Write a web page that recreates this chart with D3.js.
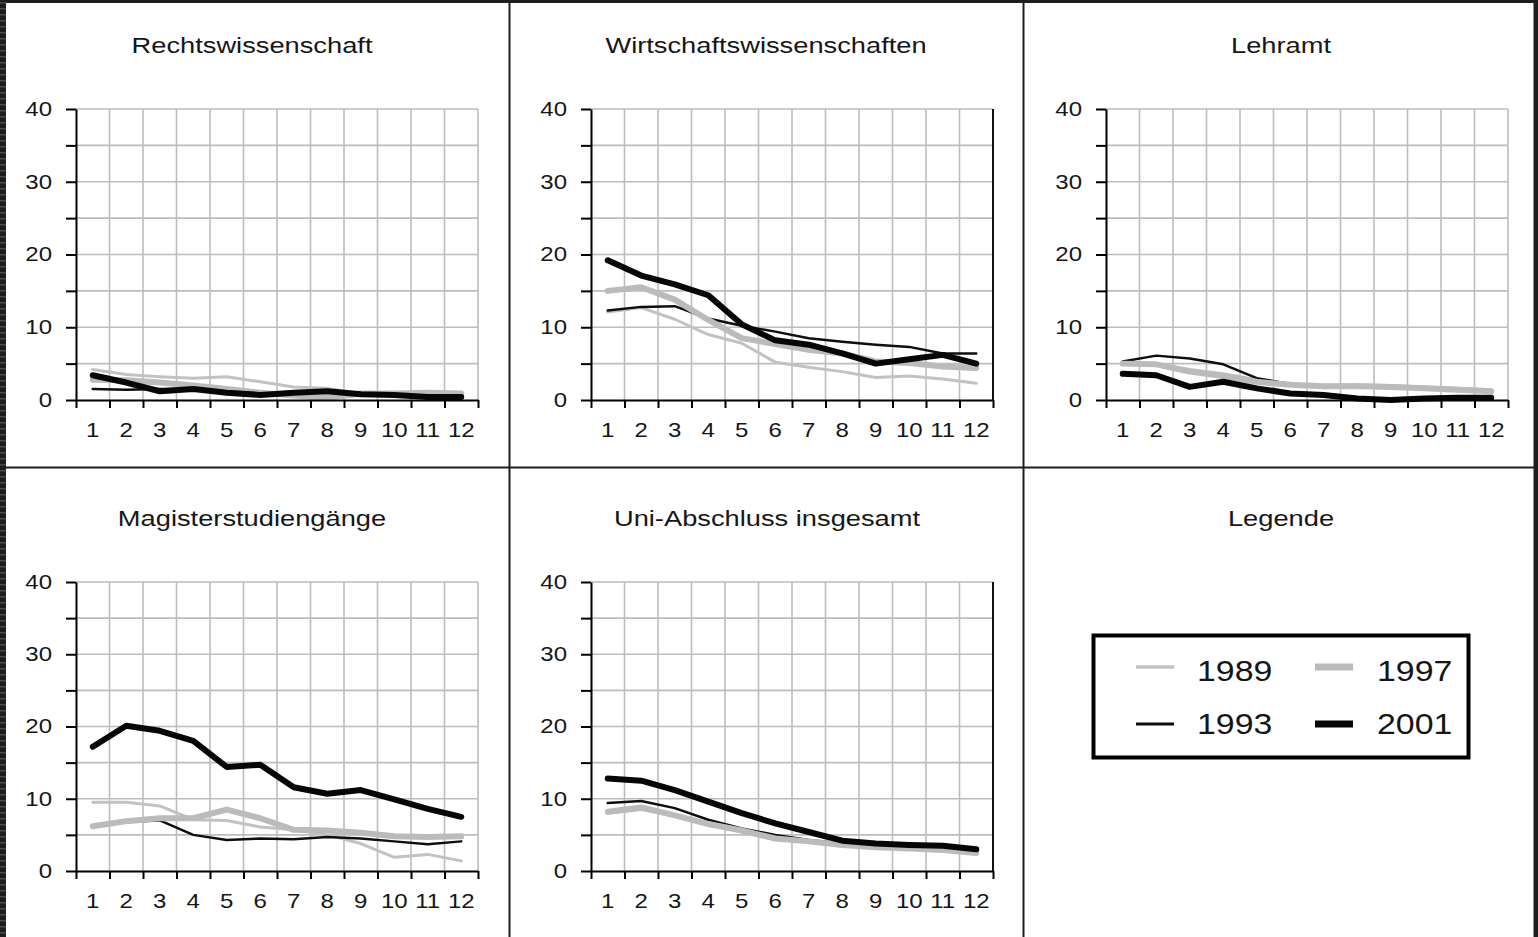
<!DOCTYPE html>
<html><head><meta charset="utf-8">
<script src="https://cdn.jsdelivr.net/npm/d3@7"></script>
<style>
body{margin:0;background:#1c1c1c;}
svg{display:block;}
text{font-family:"Liberation Sans",Arial,sans-serif;fill:#161616;}
</style>
</head><body><svg id="c" width="1538" height="937"></svg>
<script>
// ---------- data ----------
const categories = [1,2,3,4,5,6,7,8,9,10,11,12];
const years = ["1989","1993","1997","2001"];
const yTicks = [0,5,10,15,20,25,30,35,40];
const yLabels = [0,10,20,30,40];
const panelTitles = ["Rechtswissenschaft","Wirtschaftswissenschaften","Lehramt","Magisterstudiengänge","Uni-Abschluss insgesamt"];
const legendTitle = "Legende";

const rechts1989 = [4.2,3.5,3.2,3.0,3.2,2.5,1.8,1.6,0.9,0.9,0.9,0.8];
const rechts1993 = [1.5,1.4,1.5,1.5,1.1,0.8,1.0,1.2,0.9,0.8,0.5,0.4];
const rechts1997 = [2.8,2.7,2.4,2.0,1.5,1.0,0.6,0.3,0.9,0.9,1.0,0.9];
const rechts2001 = [3.4,2.4,1.2,1.5,1.0,0.7,1.0,1.2,0.8,0.7,0.4,0.4];

const wirt1989 = [12.1,12.7,11.1,9.0,7.8,5.2,4.5,3.9,3.1,3.3,2.9,2.3];
const wirt1993 = [12.3,12.8,12.9,11.2,10.2,9.4,8.5,8.0,7.6,7.3,6.4,6.4];
const wirt1997 = [15.0,15.5,13.8,11.0,8.5,7.7,6.9,6.4,5.3,5.1,4.6,4.4];
const wirt2001 = [19.2,17.1,15.9,14.4,10.4,8.2,7.6,6.4,5.0,5.6,6.2,5.0];

const lehr1989 = [5.0,5.0,4.2,3.6,2.8,2.2,2.0,2.1,2.0,1.8,1.6,1.4];
const lehr1993 = [5.3,6.1,5.7,4.9,3.0,2.2,1.9,1.8,1.7,1.6,1.4,1.2];
const lehr1997 = [5.0,4.9,3.9,3.3,2.5,2.1,1.9,1.9,1.8,1.6,1.4,1.2];
const lehr2001 = [3.6,3.4,1.8,2.5,1.6,0.9,0.7,0.2,0.0,0.2,0.3,0.3];

const mag1989 = [9.5,9.5,9.0,7.1,7.0,6.1,5.7,5.0,3.8,1.9,2.3,1.4];
const mag1993 = [6.2,6.8,7.0,5.0,4.3,4.5,4.4,4.7,4.5,4.1,3.7,4.1];
const mag1997 = [6.2,6.9,7.3,7.3,8.5,7.3,5.7,5.6,5.3,4.8,4.7,4.8];
const mag2001 = [17.2,20.1,19.4,18.0,14.4,14.7,11.6,10.7,11.2,9.9,8.6,7.5];

const uni1989 = [8.0,8.5,7.6,6.4,5.5,4.4,4.0,3.6,3.2,3.0,2.8,2.4];
const uni1993 = [9.4,9.7,8.7,7.1,5.9,5.0,4.3,3.8,3.4,3.2,3.0,2.8];
const uni1997 = [8.2,8.8,7.7,6.5,5.6,4.5,4.1,3.6,3.3,3.1,2.9,2.5];
const uni2001 = [12.8,12.5,11.2,9.6,8.0,6.6,5.4,4.2,3.8,3.6,3.5,3.0];

const panelSeries = [
  [rechts1989, rechts1993, rechts1997, rechts2001],
  [wirt1989, wirt1993, wirt1997, wirt2001],
  [lehr1989, lehr1993, lehr1997, lehr2001],
  [mag1989, mag1993, mag1997, mag2001],
  [uni1989, uni1993, uni1997, uni2001]
];

// ---------- layout / style ----------
const SX = 1.2;      // horizontal text stretch of the reference
const TSX = 1.24;    // stretch for titles
const styles = {
  "1989": {stroke:"#c2c2c2", width:3},
  "1993": {stroke:"#0e0e0e", width:2.5},
  "1997": {stroke:"#bbbbbb", width:6},
  "2001": {stroke:"#060606", width:6}
};
const panels = [
  {l:76,  t:109, r:478,  b:400, cx:252, ty:53,  darkRight:false},
  {l:591, t:109, r:993,  b:400, cx:766, ty:53,  darkRight:true},
  {l:1106,t:109, r:1508, b:400, cx:1281,ty:53,  darkRight:false},
  {l:76,  t:582, r:478,  b:871, cx:252, ty:526, darkRight:false},
  {l:591, t:582, r:993,  b:871, cx:767, ty:526, darkRight:true}
];

const svg = d3.select("#c");
svg.append("rect").attr("width",1538).attr("height",937).attr("fill","#1d1d1d");
// left textured strip
for (let yy=2; yy<937; yy+=6) {
  svg.append("rect").attr("x",0).attr("y",yy).attr("width",6).attr("height",1.5).attr("fill","#4a4a4a");
}
const cols = [[6,508.5],[510.5,1022.5],[1024.5,1533.5]];
const rows = [[3,466.5],[468.5,937]];
rows.forEach(rw => cols.forEach(c => {
  svg.append("rect").attr("x",c[0]).attr("y",rw[0]).attr("width",c[1]-c[0]).attr("height",rw[1]-rw[0]).attr("fill","#ffffff");
}));

function stext(g, x, y, str, size, anchor, sx) {
  return g.append("text")
    .attr("transform", `translate(${x},${y}) scale(${sx},1)`)
    .attr("text-anchor", anchor)
    .attr("font-size", size)
    .text(str);
}

panels.forEach((p, pi) => {
  const g = svg.append("g");
  const y = d3.scaleLinear().domain([0,40]).range([p.b, p.t]);
  const xb = d3.scaleLinear().domain([0,12]).range([p.l, p.r]);
  const xband = d3.scaleBand().domain(categories).range([p.l, p.r]);
  const xc = d => xband(d) + xband.bandwidth()/2;

  // title
  stext(g, p.cx, p.ty, panelTitles[pi], 22, "middle", TSX);

  // grid
  const grid = g.append("g").attr("stroke","#bdbdbd").attr("stroke-width",1.6);
  yTicks.filter(v => v > 0).forEach(v => {
    grid.append("line").attr("x1",p.l).attr("x2",p.r).attr("y1",y(v)).attr("y2",y(v));
  });
  d3.range(1,13).forEach(i => {
    grid.append("line").attr("x1",xb(i)).attr("x2",xb(i)).attr("y1",y(0)).attr("y2",y(40))
      .attr("stroke", (i===12 && p.darkRight) ? "#111" : null)
      .attr("stroke-width", (i===12 && p.darkRight) ? 2 : null);
  });

  // series
  const line = d3.line().x((d,i) => xc(categories[i])).y(d => y(d));
  panelSeries[pi].forEach((vals, si) => {
    const st = styles[years[si]];
    g.append("path").datum(vals).attr("d", line)
      .attr("fill","none").attr("stroke", st.stroke).attr("stroke-width", st.width)
      .attr("stroke-linejoin","round").attr("stroke-linecap","round");
  });

  // y axis
  const ya = g.append("g").attr("transform",`translate(${p.l},0)`)
    .call(d3.axisLeft(y).tickValues(yTicks).tickSize(10).tickSizeOuter(0)
      .tickFormat(d => yLabels.includes(d) ? d : ""));
  ya.select(".domain").attr("stroke","#000").attr("stroke-width",2);
  ya.selectAll(".tick line").attr("stroke","#000").attr("stroke-width",2);
  ya.selectAll(".tick text").attr("x",null).attr("fill","#161616")
    .attr("font-family","Liberation Sans, Arial, sans-serif").attr("font-size",20)
    .attr("transform",`translate(-24,0) scale(${SX},1)`);

  // x axis: ticks at boundaries
  const xa = g.append("g").attr("transform",`translate(0,${p.b})`)
    .call(d3.axisBottom(xb).tickValues(d3.range(0,13)).tickSize(8).tickSizeOuter(0).tickFormat(""));
  xa.select(".domain").attr("stroke","#000").attr("stroke-width",2);
  xa.selectAll(".tick line").attr("stroke","#000").attr("stroke-width",2);

  // x labels at band centres
  const xl = g.append("g").attr("transform",`translate(0,${p.b})`)
    .call(d3.axisBottom(xband).tickSize(0).tickPadding(23));
  xl.select(".domain").remove();
  xl.selectAll(".tick text").attr("y",null).attr("fill","#161616")
    .attr("font-family","Liberation Sans, Arial, sans-serif").attr("font-size",20)
    .attr("transform",`translate(0,23) scale(${SX},1)`);
});

// legend panel
const lg = svg.append("g");
stext(lg, 1281, 526, legendTitle, 22, "middle", TSX);
lg.append("rect").attr("x",1093.5).attr("y",635.5).attr("width",375).attr("height",122)
  .attr("fill","none").attr("stroke","#000").attr("stroke-width",4);
const legPos = {
  "1989": {lx:1136, ly:667, tx:1197, ty:681},
  "1997": {lx:1315, ly:667, tx:1377, ty:681},
  "1993": {lx:1136, ly:724, tx:1197, ty:734},
  "2001": {lx:1315, ly:724, tx:1377, ty:734}
};
years.forEach(yr => {
  const lp = legPos[yr], st = styles[yr];
  lg.append("line").attr("x1",lp.lx).attr("x2",lp.lx+38).attr("y1",lp.ly).attr("y2",lp.ly)
    .attr("stroke",st.stroke).attr("stroke-width", st.width + (st.width>4 ? 1 : 0.5));
  stext(lg, lp.tx, lp.ty, yr, 30, "start", 1.13);
});
</script>
</body></html>
